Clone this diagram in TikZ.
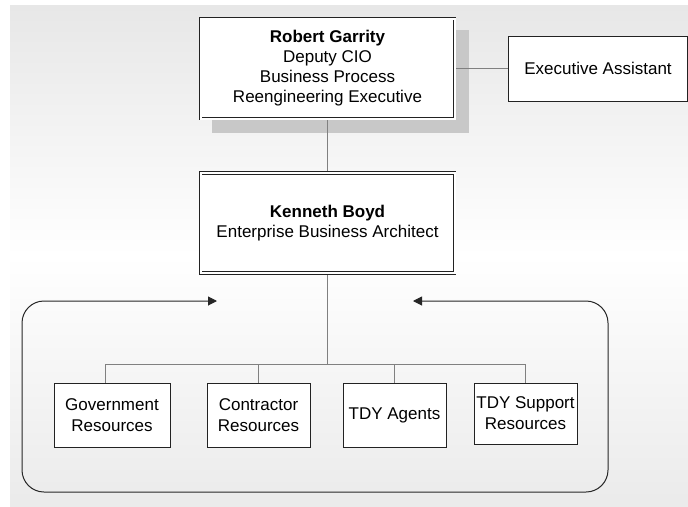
\documentclass[tikz,border=0pt]{standalone}
\usepackage{fontspec}
\setmainfont{Liberation Sans}
\usetikzlibrary{arrows.meta}
\definecolor{linegray}{RGB}{128,128,128}
\definecolor{shadowgray}{RGB}{200,200,200}
\definecolor{bgtop}{RGB}{207,207,207}
\definecolor{bgbot}{RGB}{214,214,214}
\definecolor{edge}{RGB}{34,34,34}
\pgfdeclarelayer{bg}
\pgfsetlayers{bg,main}
% page background: grey at top and bottom, white in the middle
\pgfdeclareverticalshading{pageshade}{100bp}{%
  color(0bp)=(bgbot); color(50bp)=(white); color(100bp)=(bgtop)}

\begin{document}
\begin{tikzpicture}[x=1pt,y=-1pt,
  execbox/.style={draw=edge, line width=0.7pt, double=white, double distance=2pt,
    fill=white, inner sep=0pt, minimum width=254pt, minimum height=100pt,
    align=center, font=\fontsize{17}{20}\selectfont},
  staffbox/.style={draw=edge, line width=0.8pt, fill=white, inner sep=0pt,
    align=center, font=\fontsize{17}{20}\selectfont},
  resbox/.style={draw=edge, line width=0.8pt, fill=white, inner sep=0pt,
    minimum width=103pt, minimum height=64pt, align=center,
    font=\fontsize{17}{21}\selectfont},
  link/.style={draw=linegray, line width=0.8pt},
  teamframe/.style={draw=black!85, line width=1pt, rounded corners=22pt,
    {Triangle[length=9pt,width=9pt]}-{Triangle[length=9pt,width=9pt]}}
]
\useasboundingbox (0,0) rectangle (688,506);

% executive level
\node[execbox] (rg) at (327.5,68.5)
  {\textbf{Robert Garrity}\\Deputy CIO\\Business Process\\Reengineering Executive};
\node[staffbox, minimum width=179pt, minimum height=65pt] (ea) at (598,68.5)
  {Executive Assistant};
\node[execbox] (kb) at (327.5,223)
  {\textbf{Kenneth Boyd}\\Enterprise Business Architect};

% resource pools
\node[resbox, minimum width=116pt] (gov) at (112,415) {Government\\Resources};
\node[resbox] (con) at (258.5,415) {Contractor\\Resources};
\node[resbox] (tdy) at (394.5,415) {TDY Agents};
\node[resbox, minimum height=61pt] (sup) at (525.5,413.5) {TDY Support\\Resources};

% team frame with arrows pointing inward
\coordinate (tipL) at (217,301);
\coordinate (tipR) at (413,301);
\draw[teamframe] (tipR) -- (608,301) -- (608,492) -- (22,492) -- (22,301) -- (tipL);

% bus coordinates
\coordinate (busL) at (105,364);
\coordinate (busR) at (525.5,364);

\begin{pgfonlayer}{bg}
  \shade[shading=pageshade] (10,5) rectangle (688,506);
  \fill[shadowgray] (212,30) rectangle (469,133);
  \draw[link] (rg.east) -- (ea.west);
  \draw[link] (rg.south) -- (kb.north);
  \draw[link] (kb.south) -- (kb.south |- busL);
  \draw[link] (busL) -- (busR);
  \draw[link] (busL) -- (busL |- gov.north);
  \draw[link] (con.north) -- (con.north |- busL);
  \draw[link] (tdy.north) -- (tdy.north |- busL);
  \draw[link] (sup.north) -- (sup.north |- busL);
\end{pgfonlayer}
\end{tikzpicture}
\end{document}
